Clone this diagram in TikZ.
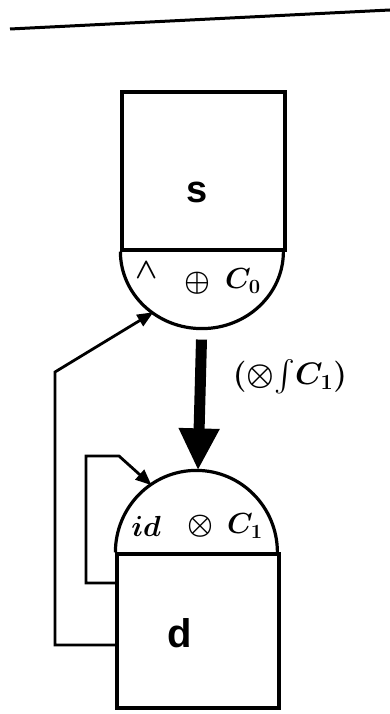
\documentclass[tikz,border=0pt]{standalone}
\usepackage{fontspec}
\setsansfont{Liberation Sans}
\usepackage{amsmath, amssymb, graphicx}
\usetikzlibrary{calc, arrows.meta}
\newcommand{\bigsym}[1]{\scalebox{1.4}{\huge\boldmath$#1$}}
\tikzset{box/.style={draw, line width=3.2pt, inner sep=0pt},
    letter/.style={font=\sffamily\bfseries},
    sym/.style={inner sep=0pt},
    flow/.style={line width=2.8pt, -{Triangle[length=16pt,width=13pt]}},
    bigflow/.style={line width=11pt, -{Triangle[length=42pt,width=38pt]}}
}

\begin{document}
\begin{tikzpicture}[x=1pt, y=-1pt]
    \useasboundingbox (0,0) rectangle (390,714);
    \draw[line width=3pt] (10,29) -- (390,10);

    \node [box, minimum width=163pt, minimum height=158pt] (s) at (203.5,171) {};
    \draw[line width=3.2pt] (s.south west) arc[start angle=180, end angle=360, x radius=81.5pt, y radius=77pt];
    \node [letter, font=\sffamily\bfseries\fontsize{38}{44}\selectfont] (sname) at (197,192) {s};
    \node [sym] (wedge) at (147,270) {\bigsym{\wedge}};
    \node [sym] (plus) at (197,283) {\bigsym{\oplus}};
    \node [sym] (czero) at (243,281) {\bigsym{C_{0}}};

    \node [box, minimum width=162pt, minimum height=154pt] (d) at (198,631) {};
    \draw[line width=3.2pt] (d.north west) arc[start angle=180, end angle=0, x radius=81pt, y radius=82pt];
    \node [letter, font=\sffamily\bfseries\fontsize{40}{46}\selectfont] (dname) at (180,633) {d};
    \node [sym] (ident) at (146,526) {\bigsym{id}};
    \node [sym] (times) at (200,526) {\bigsym{\otimes}};
    \node [sym] (cone) at (245,526) {\bigsym{C_{1}}};

    \coordinate (sin) at ($(s.south)+(232:81.5pt and 77pt)$);
    \coordinate (din) at ($(d.north)+(125:81pt and 82pt)$);
    \coordinate (dtop) at ($(d.north)+(90:81pt and 82pt)$);
    \coordinate (outer) at (55,372);
    \coordinate (inner) at (86,456);

    \draw[bigflow] ($(s.south)+(-2,88)$) -- (dtop);
    \node [sym] (fold) at (290,377) {\scalebox{1.5}{\huge\boldmath$(\otimes\!\int\! C_{1})$}};

    \draw[flow] ($(d.west)+(0,14)$) -| (outer) -- (sin);
    \draw[flow] ($(d.west)+(0,-48)$) -| (inner) -- ++(33,0) -- (din);
\end{tikzpicture}
\end{document}
